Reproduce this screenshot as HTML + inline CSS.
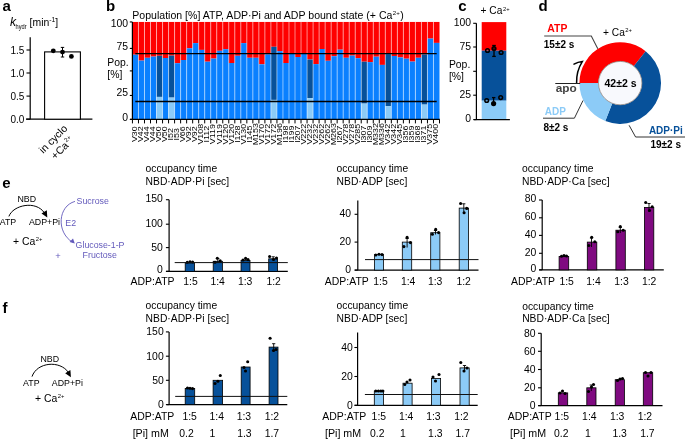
<!DOCTYPE html>
<html><head><meta charset="utf-8"><style>
html,body{margin:0;padding:0;background:#fff;}
svg{display:block;font-family:"Liberation Sans", sans-serif;will-change:transform;}
</style></head><body>
<svg width="685" height="440" viewBox="0 0 685 440">
<rect width="685" height="440" fill="#fff"/>
<text x="2.4" y="10.9" font-size="15" font-weight="bold" fill="#000">a</text>
<text x="9.9" y="26.1" font-size="12.2" font-style="italic" fill="#000">k</text>
<text x="15.6" y="29.4" font-size="7.0" fill="#000" textLength="11.0" lengthAdjust="spacingAndGlyphs">hydr</text>
<text x="29.6" y="26.3" font-size="10.4">[min<tspan dy="-4.6" font-size="6.8">-1</tspan><tspan dy="4.6">]</tspan></text>
<line x1="30.2" y1="37.2" x2="30.2" y2="119.2" stroke="#000" stroke-width="1.2"/>
<line x1="26" y1="119.2" x2="92.4" y2="119.2" stroke="#000" stroke-width="1.2"/>
<line x1="26.5" y1="50.0" x2="30.2" y2="50.0" stroke="#000" stroke-width="1.1"/>
<text x="24.3" y="53.6" font-size="10" fill="#000" text-anchor="end">1.5</text>
<line x1="26.5" y1="73.0" x2="30.2" y2="73.0" stroke="#000" stroke-width="1.1"/>
<text x="24.3" y="76.6" font-size="10" fill="#000" text-anchor="end">1.0</text>
<line x1="26.5" y1="96.1" x2="30.2" y2="96.1" stroke="#000" stroke-width="1.1"/>
<text x="24.3" y="99.69999999999999" font-size="10" fill="#000" text-anchor="end">0.5</text>
<line x1="26.5" y1="119.2" x2="30.2" y2="119.2" stroke="#000" stroke-width="1.1"/>
<text x="24.3" y="122.8" font-size="10" fill="#000" text-anchor="end">0.0</text>
<rect x="44.60" y="51.90" width="35.80" height="67.30" fill="#fff" stroke="#000" stroke-width="1.1"/>
<line x1="62.5" y1="47.4" x2="62.5" y2="57.0" stroke="#000" stroke-width="1"/>
<line x1="60.8" y1="47.4" x2="64.2" y2="47.4" stroke="#000" stroke-width="1"/>
<line x1="60.8" y1="57.0" x2="64.2" y2="57.0" stroke="#000" stroke-width="1"/>
<circle cx="53.30" cy="50.80" r="2.4" fill="#000"/>
<circle cx="62.50" cy="52.10" r="2.4" fill="#000"/>
<circle cx="71.40" cy="56.40" r="2.4" fill="#000"/>
<text transform="translate(68.1,129.2) rotate(-45)" font-size="10.5" text-anchor="end">in cyclo</text>
<text transform="translate(74.5,140.8) rotate(-45)" font-size="10.5" text-anchor="end">+Ca<tspan dx="0.7" dy="-4.3" font-size="6.0">2+</tspan></text>
<text x="106.0" y="10.8" font-size="15" font-weight="bold" fill="#000">b</text>
<text x="132.3" y="18.9" font-size="10" textLength="271.5" lengthAdjust="spacingAndGlyphs">Population [%] ATP, ADP·Pi and ADP bound state (+ Ca<tspan dx="0.4" dy="-3.6" font-size="5.8">2+</tspan><tspan dx="0.4" dy="3.6">)</tspan></text>
<rect x="132.45" y="21.95" width="6.02" height="32.75" fill="#ff0000"/>
<rect x="132.45" y="54.70" width="6.02" height="64.70" fill="#0a80ff"/>
<rect x="138.47" y="21.95" width="6.02" height="38.65" fill="#ff0000"/>
<rect x="138.47" y="60.60" width="6.02" height="58.80" fill="#0a80ff"/>
<rect x="144.49" y="21.95" width="6.02" height="35.85" fill="#ff0000"/>
<rect x="144.49" y="57.80" width="6.02" height="61.60" fill="#0a80ff"/>
<rect x="150.51" y="21.95" width="6.02" height="34.65" fill="#ff0000"/>
<rect x="150.51" y="56.60" width="6.02" height="62.80" fill="#0a80ff"/>
<rect x="156.53" y="21.95" width="6.02" height="33.85" fill="#ff0000"/>
<rect x="156.53" y="55.80" width="6.02" height="41.10" fill="#07519a"/>
<rect x="156.53" y="96.90" width="6.02" height="22.50" fill="#8ccbf7"/>
<rect x="162.55" y="21.95" width="6.02" height="36.05" fill="#ff0000"/>
<rect x="162.55" y="58.00" width="6.02" height="61.40" fill="#0a80ff"/>
<rect x="168.57" y="21.95" width="6.02" height="33.65" fill="#ff0000"/>
<rect x="168.57" y="55.60" width="6.02" height="42.00" fill="#07519a"/>
<rect x="168.57" y="97.60" width="6.02" height="21.80" fill="#8ccbf7"/>
<rect x="174.59" y="21.95" width="6.02" height="41.25" fill="#ff0000"/>
<rect x="174.59" y="63.20" width="6.02" height="56.20" fill="#0a80ff"/>
<rect x="180.61" y="21.95" width="6.02" height="38.05" fill="#ff0000"/>
<rect x="180.61" y="60.00" width="6.02" height="59.40" fill="#0a80ff"/>
<rect x="186.64" y="21.95" width="6.02" height="26.35" fill="#ff0000"/>
<rect x="186.64" y="48.30" width="6.02" height="71.10" fill="#0a80ff"/>
<rect x="192.66" y="21.95" width="6.02" height="21.15" fill="#ff0000"/>
<rect x="192.66" y="43.10" width="6.02" height="76.30" fill="#0a80ff"/>
<rect x="198.68" y="21.95" width="6.02" height="27.95" fill="#ff0000"/>
<rect x="198.68" y="49.90" width="6.02" height="69.50" fill="#0a80ff"/>
<rect x="204.70" y="21.95" width="6.02" height="39.75" fill="#ff0000"/>
<rect x="204.70" y="61.70" width="6.02" height="57.70" fill="#0a80ff"/>
<rect x="210.72" y="21.95" width="6.02" height="36.65" fill="#ff0000"/>
<rect x="210.72" y="58.60" width="6.02" height="60.80" fill="#0a80ff"/>
<rect x="216.74" y="21.95" width="6.02" height="28.85" fill="#ff0000"/>
<rect x="216.74" y="50.80" width="6.02" height="68.60" fill="#0a80ff"/>
<rect x="222.76" y="21.95" width="6.02" height="27.25" fill="#ff0000"/>
<rect x="222.76" y="49.20" width="6.02" height="70.20" fill="#0a80ff"/>
<rect x="228.78" y="21.95" width="6.02" height="41.05" fill="#ff0000"/>
<rect x="228.78" y="63.00" width="6.02" height="56.40" fill="#0a80ff"/>
<rect x="234.80" y="21.95" width="6.02" height="33.85" fill="#ff0000"/>
<rect x="234.80" y="55.80" width="6.02" height="63.60" fill="#0a80ff"/>
<rect x="240.82" y="21.95" width="6.02" height="21.15" fill="#ff0000"/>
<rect x="240.82" y="43.10" width="6.02" height="76.30" fill="#0a80ff"/>
<rect x="246.84" y="21.95" width="6.02" height="35.85" fill="#ff0000"/>
<rect x="246.84" y="57.80" width="6.02" height="61.60" fill="#0a80ff"/>
<rect x="252.86" y="21.95" width="6.02" height="35.85" fill="#ff0000"/>
<rect x="252.86" y="57.80" width="6.02" height="61.60" fill="#0a80ff"/>
<rect x="258.88" y="21.95" width="6.02" height="42.35" fill="#ff0000"/>
<rect x="258.88" y="64.30" width="6.02" height="55.10" fill="#0a80ff"/>
<rect x="264.90" y="21.95" width="6.02" height="32.45" fill="#ff0000"/>
<rect x="264.90" y="54.40" width="6.02" height="65.00" fill="#0a80ff"/>
<rect x="270.92" y="21.95" width="6.02" height="24.85" fill="#ff0000"/>
<rect x="270.92" y="46.80" width="6.02" height="53.10" fill="#07519a"/>
<rect x="270.92" y="99.90" width="6.02" height="19.50" fill="#8ccbf7"/>
<rect x="276.94" y="21.95" width="6.02" height="29.25" fill="#ff0000"/>
<rect x="276.94" y="51.20" width="6.02" height="68.20" fill="#0a80ff"/>
<rect x="282.96" y="21.95" width="6.02" height="41.05" fill="#ff0000"/>
<rect x="282.96" y="63.00" width="6.02" height="56.40" fill="#0a80ff"/>
<rect x="288.99" y="21.95" width="6.02" height="31.55" fill="#ff0000"/>
<rect x="288.99" y="53.50" width="6.02" height="65.90" fill="#0a80ff"/>
<rect x="295.01" y="21.95" width="6.02" height="35.05" fill="#ff0000"/>
<rect x="295.01" y="57.00" width="6.02" height="62.40" fill="#0a80ff"/>
<rect x="301.03" y="21.95" width="6.02" height="31.85" fill="#ff0000"/>
<rect x="301.03" y="53.80" width="6.02" height="65.60" fill="#0a80ff"/>
<rect x="307.05" y="21.95" width="6.02" height="37.55" fill="#ff0000"/>
<rect x="307.05" y="59.50" width="6.02" height="38.60" fill="#07519a"/>
<rect x="307.05" y="98.10" width="6.02" height="21.30" fill="#8ccbf7"/>
<rect x="313.07" y="21.95" width="6.02" height="42.15" fill="#ff0000"/>
<rect x="313.07" y="64.10" width="6.02" height="55.30" fill="#0a80ff"/>
<rect x="319.09" y="21.95" width="6.02" height="27.05" fill="#ff0000"/>
<rect x="319.09" y="49.00" width="6.02" height="70.40" fill="#0a80ff"/>
<rect x="325.11" y="21.95" width="6.02" height="38.85" fill="#ff0000"/>
<rect x="325.11" y="60.80" width="6.02" height="58.60" fill="#0a80ff"/>
<rect x="331.13" y="21.95" width="6.02" height="34.25" fill="#ff0000"/>
<rect x="331.13" y="56.20" width="6.02" height="63.20" fill="#0a80ff"/>
<rect x="337.15" y="21.95" width="6.02" height="27.75" fill="#ff0000"/>
<rect x="337.15" y="49.70" width="6.02" height="69.70" fill="#0a80ff"/>
<rect x="343.17" y="21.95" width="6.02" height="35.85" fill="#ff0000"/>
<rect x="343.17" y="57.80" width="6.02" height="61.60" fill="#0a80ff"/>
<rect x="349.19" y="21.95" width="6.02" height="33.65" fill="#ff0000"/>
<rect x="349.19" y="55.60" width="6.02" height="63.80" fill="#0a80ff"/>
<rect x="355.21" y="21.95" width="6.02" height="36.25" fill="#ff0000"/>
<rect x="355.21" y="58.20" width="6.02" height="61.20" fill="#0a80ff"/>
<rect x="361.23" y="21.95" width="6.02" height="39.75" fill="#ff0000"/>
<rect x="361.23" y="61.70" width="6.02" height="41.90" fill="#07519a"/>
<rect x="361.23" y="103.60" width="6.02" height="15.80" fill="#8ccbf7"/>
<rect x="367.25" y="21.95" width="6.02" height="40.15" fill="#ff0000"/>
<rect x="367.25" y="62.10" width="6.02" height="57.30" fill="#0a80ff"/>
<rect x="373.27" y="21.95" width="6.02" height="34.75" fill="#ff0000"/>
<rect x="373.27" y="56.70" width="6.02" height="62.70" fill="#0a80ff"/>
<rect x="379.29" y="21.95" width="6.02" height="42.95" fill="#ff0000"/>
<rect x="379.29" y="64.90" width="6.02" height="54.50" fill="#0a80ff"/>
<rect x="385.31" y="21.95" width="6.02" height="32.15" fill="#ff0000"/>
<rect x="385.31" y="54.10" width="6.02" height="52.00" fill="#07519a"/>
<rect x="385.31" y="106.10" width="6.02" height="13.30" fill="#8ccbf7"/>
<rect x="391.34" y="21.95" width="6.02" height="34.05" fill="#ff0000"/>
<rect x="391.34" y="56.00" width="6.02" height="63.40" fill="#0a80ff"/>
<rect x="397.36" y="21.95" width="6.02" height="35.45" fill="#ff0000"/>
<rect x="397.36" y="57.40" width="6.02" height="62.00" fill="#0a80ff"/>
<rect x="403.38" y="21.95" width="6.02" height="36.75" fill="#ff0000"/>
<rect x="403.38" y="58.70" width="6.02" height="60.70" fill="#0a80ff"/>
<rect x="409.40" y="21.95" width="6.02" height="39.65" fill="#ff0000"/>
<rect x="409.40" y="61.60" width="6.02" height="57.80" fill="#0a80ff"/>
<rect x="415.42" y="21.95" width="6.02" height="35.85" fill="#ff0000"/>
<rect x="415.42" y="57.80" width="6.02" height="61.60" fill="#0a80ff"/>
<rect x="421.44" y="21.95" width="6.02" height="32.55" fill="#ff0000"/>
<rect x="421.44" y="54.50" width="6.02" height="50.10" fill="#07519a"/>
<rect x="421.44" y="104.60" width="6.02" height="14.80" fill="#8ccbf7"/>
<rect x="427.46" y="21.95" width="6.02" height="16.65" fill="#ff0000"/>
<rect x="427.46" y="38.60" width="6.02" height="80.80" fill="#0a80ff"/>
<rect x="433.48" y="21.95" width="6.02" height="20.95" fill="#ff0000"/>
<rect x="433.48" y="42.90" width="6.02" height="76.50" fill="#0a80ff"/>
<line x1="138.47" y1="21.95" x2="138.47" y2="119.4" stroke="#fff" stroke-width="1" stroke-opacity="0.5"/>
<line x1="144.49" y1="21.95" x2="144.49" y2="119.4" stroke="#fff" stroke-width="1" stroke-opacity="0.5"/>
<line x1="150.51" y1="21.95" x2="150.51" y2="119.4" stroke="#fff" stroke-width="1" stroke-opacity="0.5"/>
<line x1="156.53" y1="21.95" x2="156.53" y2="119.4" stroke="#fff" stroke-width="1" stroke-opacity="0.5"/>
<line x1="162.55" y1="21.95" x2="162.55" y2="119.4" stroke="#fff" stroke-width="1" stroke-opacity="0.5"/>
<line x1="168.57" y1="21.95" x2="168.57" y2="119.4" stroke="#fff" stroke-width="1" stroke-opacity="0.5"/>
<line x1="174.59" y1="21.95" x2="174.59" y2="119.4" stroke="#fff" stroke-width="1" stroke-opacity="0.5"/>
<line x1="180.61" y1="21.95" x2="180.61" y2="119.4" stroke="#fff" stroke-width="1" stroke-opacity="0.5"/>
<line x1="186.64" y1="21.95" x2="186.64" y2="119.4" stroke="#fff" stroke-width="1" stroke-opacity="0.5"/>
<line x1="192.66" y1="21.95" x2="192.66" y2="119.4" stroke="#fff" stroke-width="1" stroke-opacity="0.5"/>
<line x1="198.68" y1="21.95" x2="198.68" y2="119.4" stroke="#fff" stroke-width="1" stroke-opacity="0.5"/>
<line x1="204.70" y1="21.95" x2="204.70" y2="119.4" stroke="#fff" stroke-width="1" stroke-opacity="0.5"/>
<line x1="210.72" y1="21.95" x2="210.72" y2="119.4" stroke="#fff" stroke-width="1" stroke-opacity="0.5"/>
<line x1="216.74" y1="21.95" x2="216.74" y2="119.4" stroke="#fff" stroke-width="1" stroke-opacity="0.5"/>
<line x1="222.76" y1="21.95" x2="222.76" y2="119.4" stroke="#fff" stroke-width="1" stroke-opacity="0.5"/>
<line x1="228.78" y1="21.95" x2="228.78" y2="119.4" stroke="#fff" stroke-width="1" stroke-opacity="0.5"/>
<line x1="234.80" y1="21.95" x2="234.80" y2="119.4" stroke="#fff" stroke-width="1" stroke-opacity="0.5"/>
<line x1="240.82" y1="21.95" x2="240.82" y2="119.4" stroke="#fff" stroke-width="1" stroke-opacity="0.5"/>
<line x1="246.84" y1="21.95" x2="246.84" y2="119.4" stroke="#fff" stroke-width="1" stroke-opacity="0.5"/>
<line x1="252.86" y1="21.95" x2="252.86" y2="119.4" stroke="#fff" stroke-width="1" stroke-opacity="0.5"/>
<line x1="258.88" y1="21.95" x2="258.88" y2="119.4" stroke="#fff" stroke-width="1" stroke-opacity="0.5"/>
<line x1="264.90" y1="21.95" x2="264.90" y2="119.4" stroke="#fff" stroke-width="1" stroke-opacity="0.5"/>
<line x1="270.92" y1="21.95" x2="270.92" y2="119.4" stroke="#fff" stroke-width="1" stroke-opacity="0.5"/>
<line x1="276.94" y1="21.95" x2="276.94" y2="119.4" stroke="#fff" stroke-width="1" stroke-opacity="0.5"/>
<line x1="282.96" y1="21.95" x2="282.96" y2="119.4" stroke="#fff" stroke-width="1" stroke-opacity="0.5"/>
<line x1="288.99" y1="21.95" x2="288.99" y2="119.4" stroke="#fff" stroke-width="1" stroke-opacity="0.5"/>
<line x1="295.01" y1="21.95" x2="295.01" y2="119.4" stroke="#fff" stroke-width="1" stroke-opacity="0.5"/>
<line x1="301.03" y1="21.95" x2="301.03" y2="119.4" stroke="#fff" stroke-width="1" stroke-opacity="0.5"/>
<line x1="307.05" y1="21.95" x2="307.05" y2="119.4" stroke="#fff" stroke-width="1" stroke-opacity="0.5"/>
<line x1="313.07" y1="21.95" x2="313.07" y2="119.4" stroke="#fff" stroke-width="1" stroke-opacity="0.5"/>
<line x1="319.09" y1="21.95" x2="319.09" y2="119.4" stroke="#fff" stroke-width="1" stroke-opacity="0.5"/>
<line x1="325.11" y1="21.95" x2="325.11" y2="119.4" stroke="#fff" stroke-width="1" stroke-opacity="0.5"/>
<line x1="331.13" y1="21.95" x2="331.13" y2="119.4" stroke="#fff" stroke-width="1" stroke-opacity="0.5"/>
<line x1="337.15" y1="21.95" x2="337.15" y2="119.4" stroke="#fff" stroke-width="1" stroke-opacity="0.5"/>
<line x1="343.17" y1="21.95" x2="343.17" y2="119.4" stroke="#fff" stroke-width="1" stroke-opacity="0.5"/>
<line x1="349.19" y1="21.95" x2="349.19" y2="119.4" stroke="#fff" stroke-width="1" stroke-opacity="0.5"/>
<line x1="355.21" y1="21.95" x2="355.21" y2="119.4" stroke="#fff" stroke-width="1" stroke-opacity="0.5"/>
<line x1="361.23" y1="21.95" x2="361.23" y2="119.4" stroke="#fff" stroke-width="1" stroke-opacity="0.5"/>
<line x1="367.25" y1="21.95" x2="367.25" y2="119.4" stroke="#fff" stroke-width="1" stroke-opacity="0.5"/>
<line x1="373.27" y1="21.95" x2="373.27" y2="119.4" stroke="#fff" stroke-width="1" stroke-opacity="0.5"/>
<line x1="379.29" y1="21.95" x2="379.29" y2="119.4" stroke="#fff" stroke-width="1" stroke-opacity="0.5"/>
<line x1="385.31" y1="21.95" x2="385.31" y2="119.4" stroke="#fff" stroke-width="1" stroke-opacity="0.5"/>
<line x1="391.34" y1="21.95" x2="391.34" y2="119.4" stroke="#fff" stroke-width="1" stroke-opacity="0.5"/>
<line x1="397.36" y1="21.95" x2="397.36" y2="119.4" stroke="#fff" stroke-width="1" stroke-opacity="0.5"/>
<line x1="403.38" y1="21.95" x2="403.38" y2="119.4" stroke="#fff" stroke-width="1" stroke-opacity="0.5"/>
<line x1="409.40" y1="21.95" x2="409.40" y2="119.4" stroke="#fff" stroke-width="1" stroke-opacity="0.5"/>
<line x1="415.42" y1="21.95" x2="415.42" y2="119.4" stroke="#fff" stroke-width="1" stroke-opacity="0.5"/>
<line x1="421.44" y1="21.95" x2="421.44" y2="119.4" stroke="#fff" stroke-width="1" stroke-opacity="0.5"/>
<line x1="427.46" y1="21.95" x2="427.46" y2="119.4" stroke="#fff" stroke-width="1" stroke-opacity="0.5"/>
<line x1="433.48" y1="21.95" x2="433.48" y2="119.4" stroke="#fff" stroke-width="1" stroke-opacity="0.5"/>
<line x1="135.3" y1="53.6" x2="436.7" y2="53.6" stroke="#000" stroke-width="1.4"/>
<line x1="135.3" y1="101.5" x2="436.7" y2="101.5" stroke="#000" stroke-width="1.4"/>
<line x1="132.4" y1="21.95" x2="132.4" y2="120.0" stroke="#000" stroke-width="1.2"/>
<line x1="130.0" y1="119.4" x2="439.8" y2="119.4" stroke="#000" stroke-width="1.2"/>
<line x1="132.45" y1="119.4" x2="132.45" y2="123.4" stroke="#000" stroke-width="1"/>
<line x1="138.47" y1="119.4" x2="138.47" y2="123.4" stroke="#000" stroke-width="1"/>
<line x1="144.49" y1="119.4" x2="144.49" y2="123.4" stroke="#000" stroke-width="1"/>
<line x1="150.51" y1="119.4" x2="150.51" y2="123.4" stroke="#000" stroke-width="1"/>
<line x1="156.53" y1="119.4" x2="156.53" y2="123.4" stroke="#000" stroke-width="1"/>
<line x1="162.55" y1="119.4" x2="162.55" y2="123.4" stroke="#000" stroke-width="1"/>
<line x1="168.57" y1="119.4" x2="168.57" y2="123.4" stroke="#000" stroke-width="1"/>
<line x1="174.59" y1="119.4" x2="174.59" y2="123.4" stroke="#000" stroke-width="1"/>
<line x1="180.61" y1="119.4" x2="180.61" y2="123.4" stroke="#000" stroke-width="1"/>
<line x1="186.64" y1="119.4" x2="186.64" y2="123.4" stroke="#000" stroke-width="1"/>
<line x1="192.66" y1="119.4" x2="192.66" y2="123.4" stroke="#000" stroke-width="1"/>
<line x1="198.68" y1="119.4" x2="198.68" y2="123.4" stroke="#000" stroke-width="1"/>
<line x1="204.70" y1="119.4" x2="204.70" y2="123.4" stroke="#000" stroke-width="1"/>
<line x1="210.72" y1="119.4" x2="210.72" y2="123.4" stroke="#000" stroke-width="1"/>
<line x1="216.74" y1="119.4" x2="216.74" y2="123.4" stroke="#000" stroke-width="1"/>
<line x1="222.76" y1="119.4" x2="222.76" y2="123.4" stroke="#000" stroke-width="1"/>
<line x1="228.78" y1="119.4" x2="228.78" y2="123.4" stroke="#000" stroke-width="1"/>
<line x1="234.80" y1="119.4" x2="234.80" y2="123.4" stroke="#000" stroke-width="1"/>
<line x1="240.82" y1="119.4" x2="240.82" y2="123.4" stroke="#000" stroke-width="1"/>
<line x1="246.84" y1="119.4" x2="246.84" y2="123.4" stroke="#000" stroke-width="1"/>
<line x1="252.86" y1="119.4" x2="252.86" y2="123.4" stroke="#000" stroke-width="1"/>
<line x1="258.88" y1="119.4" x2="258.88" y2="123.4" stroke="#000" stroke-width="1"/>
<line x1="264.90" y1="119.4" x2="264.90" y2="123.4" stroke="#000" stroke-width="1"/>
<line x1="270.92" y1="119.4" x2="270.92" y2="123.4" stroke="#000" stroke-width="1"/>
<line x1="276.94" y1="119.4" x2="276.94" y2="123.4" stroke="#000" stroke-width="1"/>
<line x1="282.96" y1="119.4" x2="282.96" y2="123.4" stroke="#000" stroke-width="1"/>
<line x1="288.99" y1="119.4" x2="288.99" y2="123.4" stroke="#000" stroke-width="1"/>
<line x1="295.01" y1="119.4" x2="295.01" y2="123.4" stroke="#000" stroke-width="1"/>
<line x1="301.03" y1="119.4" x2="301.03" y2="123.4" stroke="#000" stroke-width="1"/>
<line x1="307.05" y1="119.4" x2="307.05" y2="123.4" stroke="#000" stroke-width="1"/>
<line x1="313.07" y1="119.4" x2="313.07" y2="123.4" stroke="#000" stroke-width="1"/>
<line x1="319.09" y1="119.4" x2="319.09" y2="123.4" stroke="#000" stroke-width="1"/>
<line x1="325.11" y1="119.4" x2="325.11" y2="123.4" stroke="#000" stroke-width="1"/>
<line x1="331.13" y1="119.4" x2="331.13" y2="123.4" stroke="#000" stroke-width="1"/>
<line x1="337.15" y1="119.4" x2="337.15" y2="123.4" stroke="#000" stroke-width="1"/>
<line x1="343.17" y1="119.4" x2="343.17" y2="123.4" stroke="#000" stroke-width="1"/>
<line x1="349.19" y1="119.4" x2="349.19" y2="123.4" stroke="#000" stroke-width="1"/>
<line x1="355.21" y1="119.4" x2="355.21" y2="123.4" stroke="#000" stroke-width="1"/>
<line x1="361.23" y1="119.4" x2="361.23" y2="123.4" stroke="#000" stroke-width="1"/>
<line x1="367.25" y1="119.4" x2="367.25" y2="123.4" stroke="#000" stroke-width="1"/>
<line x1="373.27" y1="119.4" x2="373.27" y2="123.4" stroke="#000" stroke-width="1"/>
<line x1="379.29" y1="119.4" x2="379.29" y2="123.4" stroke="#000" stroke-width="1"/>
<line x1="385.31" y1="119.4" x2="385.31" y2="123.4" stroke="#000" stroke-width="1"/>
<line x1="391.34" y1="119.4" x2="391.34" y2="123.4" stroke="#000" stroke-width="1"/>
<line x1="397.36" y1="119.4" x2="397.36" y2="123.4" stroke="#000" stroke-width="1"/>
<line x1="403.38" y1="119.4" x2="403.38" y2="123.4" stroke="#000" stroke-width="1"/>
<line x1="409.40" y1="119.4" x2="409.40" y2="123.4" stroke="#000" stroke-width="1"/>
<line x1="415.42" y1="119.4" x2="415.42" y2="123.4" stroke="#000" stroke-width="1"/>
<line x1="421.44" y1="119.4" x2="421.44" y2="123.4" stroke="#000" stroke-width="1"/>
<line x1="427.46" y1="119.4" x2="427.46" y2="123.4" stroke="#000" stroke-width="1"/>
<line x1="433.48" y1="119.4" x2="433.48" y2="123.4" stroke="#000" stroke-width="1"/>
<line x1="439.50" y1="119.4" x2="439.50" y2="123.4" stroke="#000" stroke-width="1"/>
<line x1="129.8" y1="21.95" x2="132.4" y2="21.95" stroke="#000" stroke-width="1.1"/>
<line x1="129.8" y1="48.4" x2="132.4" y2="48.4" stroke="#000" stroke-width="1.1"/>
<line x1="129.8" y1="70.9" x2="132.4" y2="70.9" stroke="#000" stroke-width="1.1"/>
<line x1="129.8" y1="95.45" x2="132.4" y2="95.45" stroke="#000" stroke-width="1.1"/>
<line x1="129.8" y1="119.4" x2="132.4" y2="119.4" stroke="#000" stroke-width="1.1"/>
<text x="128.1" y="26.9" font-size="10.4" fill="#000" text-anchor="end">100</text>
<text x="128.1" y="50.3" font-size="10.4" fill="#000" text-anchor="end">75</text>
<text x="128.1" y="96.4" font-size="10.4" fill="#000" text-anchor="end">25</text>
<text x="128.1" y="120.6" font-size="10.4" fill="#000" text-anchor="end">0</text>
<text x="107.3" y="65.6" font-size="10.4" fill="#000">Pop.</text>
<text x="107.3" y="77.8" font-size="10.4" fill="#000">[%]</text>
<text transform="translate(137.21,134.2) rotate(-90) scale(1,0.8)" font-size="8.9" text-anchor="middle">V30</text>
<text transform="translate(143.23,134.2) rotate(-90) scale(1,0.8)" font-size="8.9" text-anchor="middle">V42</text>
<text transform="translate(149.25,134.2) rotate(-90) scale(1,0.8)" font-size="8.9" text-anchor="middle">V44</text>
<text transform="translate(155.27,134.2) rotate(-90) scale(1,0.8)" font-size="8.9" text-anchor="middle">V44</text>
<text transform="translate(161.29,134.2) rotate(-90) scale(1,0.8)" font-size="8.9" text-anchor="middle">V50</text>
<text transform="translate(167.31,134.2) rotate(-90) scale(1,0.8)" font-size="8.9" text-anchor="middle">V50</text>
<text transform="translate(173.33,134.2) rotate(-90) scale(1,0.8)" font-size="8.9" text-anchor="middle">I52</text>
<text transform="translate(179.35,134.2) rotate(-90) scale(1,0.8)" font-size="8.9" text-anchor="middle">I53</text>
<text transform="translate(185.38,134.2) rotate(-90) scale(1,0.8)" font-size="8.9" text-anchor="middle">V66</text>
<text transform="translate(191.40,134.2) rotate(-90) scale(1,0.8)" font-size="8.9" text-anchor="middle">V92</text>
<text transform="translate(197.42,134.2) rotate(-90) scale(1,0.8)" font-size="8.9" text-anchor="middle">V92</text>
<text transform="translate(203.44,134.2) rotate(-90) scale(1,0.8)" font-size="8.9" text-anchor="middle">V108</text>
<text transform="translate(209.46,134.2) rotate(-90) scale(1,0.8)" font-size="8.9" text-anchor="middle">I112</text>
<text transform="translate(215.48,134.2) rotate(-90) scale(1,0.8)" font-size="8.9" text-anchor="middle">V119</text>
<text transform="translate(221.50,134.2) rotate(-90) scale(1,0.8)" font-size="8.9" text-anchor="middle">V119</text>
<text transform="translate(227.52,134.2) rotate(-90) scale(1,0.8)" font-size="8.9" text-anchor="middle">V120</text>
<text transform="translate(233.54,134.2) rotate(-90) scale(1,0.8)" font-size="8.9" text-anchor="middle">V120</text>
<text transform="translate(239.56,134.2) rotate(-90) scale(1,0.8)" font-size="8.9" text-anchor="middle">I128</text>
<text transform="translate(245.58,134.2) rotate(-90) scale(1,0.8)" font-size="8.9" text-anchor="middle">V130</text>
<text transform="translate(251.60,134.2) rotate(-90) scale(1,0.8)" font-size="8.9" text-anchor="middle">I145</text>
<text transform="translate(257.62,134.2) rotate(-90) scale(1,0.8)" font-size="8.9" text-anchor="middle">M153</text>
<text transform="translate(263.64,134.2) rotate(-90) scale(1,0.8)" font-size="8.9" text-anchor="middle">V170</text>
<text transform="translate(269.66,134.2) rotate(-90) scale(1,0.8)" font-size="8.9" text-anchor="middle">V172</text>
<text transform="translate(275.68,134.2) rotate(-90) scale(1,0.8)" font-size="8.9" text-anchor="middle">V172</text>
<text transform="translate(281.70,134.2) rotate(-90) scale(1,0.8)" font-size="8.9" text-anchor="middle">M196</text>
<text transform="translate(287.73,134.2) rotate(-90) scale(1,0.8)" font-size="8.9" text-anchor="middle">I198</text>
<text transform="translate(293.75,134.2) rotate(-90) scale(1,0.8)" font-size="8.9" text-anchor="middle">I199</text>
<text transform="translate(299.77,134.2) rotate(-90) scale(1,0.8)" font-size="8.9" text-anchor="middle">I207</text>
<text transform="translate(305.79,134.2) rotate(-90) scale(1,0.8)" font-size="8.9" text-anchor="middle">V222</text>
<text transform="translate(311.81,134.2) rotate(-90) scale(1,0.8)" font-size="8.9" text-anchor="middle">V232</text>
<text transform="translate(317.83,134.2) rotate(-90) scale(1,0.8)" font-size="8.9" text-anchor="middle">V232</text>
<text transform="translate(323.85,134.2) rotate(-90) scale(1,0.8)" font-size="8.9" text-anchor="middle">V262</text>
<text transform="translate(329.87,134.2) rotate(-90) scale(1,0.8)" font-size="8.9" text-anchor="middle">V262</text>
<text transform="translate(335.89,134.2) rotate(-90) scale(1,0.8)" font-size="8.9" text-anchor="middle">M263</text>
<text transform="translate(341.91,134.2) rotate(-90) scale(1,0.8)" font-size="8.9" text-anchor="middle">I267</text>
<text transform="translate(347.93,134.2) rotate(-90) scale(1,0.8)" font-size="8.9" text-anchor="middle">V278</text>
<text transform="translate(353.95,134.2) rotate(-90) scale(1,0.8)" font-size="8.9" text-anchor="middle">V278</text>
<text transform="translate(359.97,134.2) rotate(-90) scale(1,0.8)" font-size="8.9" text-anchor="middle">V285</text>
<text transform="translate(365.99,134.2) rotate(-90) scale(1,0.8)" font-size="8.9" text-anchor="middle">I307</text>
<text transform="translate(372.01,134.2) rotate(-90) scale(1,0.8)" font-size="8.9" text-anchor="middle">I309</text>
<text transform="translate(378.03,134.2) rotate(-90) scale(1,0.8)" font-size="8.9" text-anchor="middle">M332</text>
<text transform="translate(384.05,134.2) rotate(-90) scale(1,0.8)" font-size="8.9" text-anchor="middle">M336</text>
<text transform="translate(390.07,134.2) rotate(-90) scale(1,0.8)" font-size="8.9" text-anchor="middle">V342</text>
<text transform="translate(396.10,134.2) rotate(-90) scale(1,0.8)" font-size="8.9" text-anchor="middle">V342</text>
<text transform="translate(402.12,134.2) rotate(-90) scale(1,0.8)" font-size="8.9" text-anchor="middle">V345</text>
<text transform="translate(408.14,134.2) rotate(-90) scale(1,0.8)" font-size="8.9" text-anchor="middle">I356</text>
<text transform="translate(414.16,134.2) rotate(-90) scale(1,0.8)" font-size="8.9" text-anchor="middle">I359</text>
<text transform="translate(420.18,134.2) rotate(-90) scale(1,0.8)" font-size="8.9" text-anchor="middle">I368</text>
<text transform="translate(426.20,134.2) rotate(-90) scale(1,0.8)" font-size="8.9" text-anchor="middle">I371</text>
<text transform="translate(432.22,134.2) rotate(-90) scale(1,0.8)" font-size="8.9" text-anchor="middle">V375</text>
<text transform="translate(438.24,134.2) rotate(-90) scale(1,0.8)" font-size="8.9" text-anchor="middle">V400</text>
<text x="458.3" y="11.0" font-size="15" font-weight="bold" fill="#000">c</text>
<text x="480.6" y="14.4" font-size="10.2">+ Ca<tspan dx="0.5" dy="-3.9" font-size="5.8">2+</tspan></text>
<rect x="481.70" y="22.10" width="24.60" height="28.60" fill="#ff0000"/>
<rect x="481.70" y="50.70" width="24.60" height="50.00" fill="#07519a"/>
<rect x="481.70" y="100.70" width="24.60" height="18.90" fill="#8ccbf7"/>
<line x1="476.4" y1="23.2" x2="476.4" y2="119.6" stroke="#000" stroke-width="1.2"/>
<line x1="474.0" y1="119.6" x2="509.9" y2="119.6" stroke="#000" stroke-width="1.2"/>
<line x1="473.2" y1="23.3" x2="476.4" y2="23.3" stroke="#000" stroke-width="1.1"/>
<line x1="473.2" y1="47.0" x2="476.4" y2="47.0" stroke="#000" stroke-width="1.1"/>
<line x1="473.2" y1="71.3" x2="476.4" y2="71.3" stroke="#000" stroke-width="1.1"/>
<line x1="473.2" y1="95.2" x2="476.4" y2="95.2" stroke="#000" stroke-width="1.1"/>
<line x1="473.2" y1="119.6" x2="476.4" y2="119.6" stroke="#000" stroke-width="1.1"/>
<text x="471.0" y="25.9" font-size="10.4" fill="#000" text-anchor="end">100</text>
<text x="471.0" y="50.0" font-size="10.4" fill="#000" text-anchor="end">75</text>
<text x="471.0" y="98.2" font-size="10.4" fill="#000" text-anchor="end">25</text>
<text x="471.0" y="122.1" font-size="10.4" fill="#000" text-anchor="end">0</text>
<text x="448.9" y="67.5" font-size="10.4" fill="#000">Pop.</text>
<text x="448.9" y="79.9" font-size="10.4" fill="#000">[%]</text>
<line x1="494.0" y1="45.5" x2="494.0" y2="56.4" stroke="#000" stroke-width="1.3"/>
<line x1="492.2" y1="45.5" x2="495.8" y2="45.5" stroke="#000" stroke-width="1.3"/>
<line x1="492.2" y1="56.4" x2="495.8" y2="56.4" stroke="#000" stroke-width="1.3"/>
<circle cx="487.50" cy="50.50" r="1.85" fill="none" stroke="#000" stroke-width="1.5"/>
<circle cx="494.00" cy="48.50" r="1.85" fill="none" stroke="#000" stroke-width="1.5"/>
<circle cx="501.10" cy="52.50" r="1.85" fill="none" stroke="#000" stroke-width="1.5"/>
<line x1="493.6" y1="97.6" x2="493.6" y2="103.6" stroke="#000" stroke-width="1.3"/>
<line x1="492.0" y1="97.6" x2="495.4" y2="97.6" stroke="#000" stroke-width="1.3"/>
<circle cx="486.70" cy="100.50" r="1.85" fill="none" stroke="#000" stroke-width="1.5"/>
<circle cx="500.70" cy="97.60" r="1.85" fill="none" stroke="#000" stroke-width="1.5"/>
<circle cx="493.60" cy="103.60" r="2.6" fill="#000"/>
<text x="538.5" y="10.9" font-size="15" font-weight="bold" fill="#000">d</text>
<path d="M579.40,83.10 A40.8,40.8 0 0 1 645.65,51.21 L633.74,66.14 A21.7,21.7 0 0 0 598.50,83.10 Z" fill="#ff0000"/>
<path d="M645.65,51.21 A40.8,40.8 0 0 1 605.31,121.09 L612.28,103.30 A21.7,21.7 0 0 0 633.74,66.14 Z" fill="#07519a"/>
<path d="M605.31,121.09 A40.8,40.8 0 0 1 579.40,83.10 L598.50,83.10 A21.7,21.7 0 0 0 612.28,103.30 Z" fill="#8ccbf7"/>
<circle cx="620.20" cy="83.10" r="21.7" fill="#f8f9fd" stroke="#8f8580" stroke-width="0.8"/>
<text x="620.5" y="87.1" font-size="10.5" font-weight="bold" fill="#000" text-anchor="middle">42±2 s</text>
<text x="547.3" y="32.2" font-size="10.4" font-weight="bold" fill="#ff0000">ATP</text>
<polyline points="544.2,36 591.3,36 597.8,48.8" fill="none" stroke="#444" stroke-width="1.1"/>
<text x="543.8" y="47.7" font-size="10" font-weight="bold" fill="#000">15±2 s</text>
<text x="603" y="35.9" font-size="10.2">+ Ca<tspan dx="0.5" dy="-3.9" font-size="5.8">2+</tspan></text>
<path d="M574.0,64.2 C576.5,62.6 579.5,61.6 582.4,61.4 C579.2,66.5 576.3,74 576.6,83" fill="none" stroke="#000" stroke-width="1.5" stroke-linecap="round"/>
<line x1="555.3" y1="83.5" x2="580.2" y2="83.5" stroke="#222" stroke-width="1"/>
<text x="555.8" y="92.3" font-size="11.8" font-weight="bold" fill="#444">apo</text>
<text x="544.8" y="114.5" font-size="10" font-weight="bold" fill="#8ccbf7">ADP</text>
<polyline points="543,118.2 574.4,118.2 583,100.5" fill="none" stroke="#333" stroke-width="1"/>
<text x="543.4" y="131.2" font-size="10" font-weight="bold" fill="#000">8±2 s</text>
<text x="648.9" y="133.5" font-size="10" font-weight="bold" fill="#07519a">ADP·Pi</text>
<polyline points="629.1,125.3 635.6,137 686,137" fill="none" stroke="#333" stroke-width="1"/>
<text x="650.5" y="148" font-size="10" font-weight="bold" fill="#000">19±2 s</text>
<text x="2.3" y="187.7" font-size="15" font-weight="bold" fill="#000">e</text>
<text x="17.5" y="201.7" font-size="8.8" fill="#000">NBD</text>
<text x="-0.3" y="225.3" font-size="8.8" fill="#000">ATP</text>
<text x="29.0" y="225.3" font-size="8.8" fill="#000">ADP+Pi</text>
<path d="M8.9,216.4 C13,205 36,200 44.5,213" fill="none" stroke="#000" stroke-width="1"/>
<path d="M47.3,217.5 L41.5,213.6 L46.8,210.3 Z" fill="#000"/>
<text x="13" y="244.6" font-size="10.4">+ Ca<tspan dx="0.5" dy="-3.9" font-size="5.8">2+</tspan></text>
<text x="76.6" y="204.2" font-size="8.8" fill="#6259bb">Sucrose</text>
<text x="65.3" y="226" font-size="8.8" fill="#6259bb">E2</text>
<text x="75.6" y="247.9" font-size="8.8" fill="#6259bb">Glucose-1-P</text>
<text x="82.6" y="257.9" font-size="8.8" fill="#6259bb">Fructose</text>
<text x="55.2" y="259.0" font-size="9.4" fill="#6259bb">+</text>
<path d="M75,201.4 C58,206 56,232 72.5,242.2" fill="none" stroke="#6259bb" stroke-width="0.9"/>
<path d="M74.8,243.5 L69.6,242.0 L73.0,238.6 Z" fill="#6259bb"/>
<text x="2.6" y="312.5" font-size="15" font-weight="bold" fill="#000">f</text>
<text x="40.5" y="361.6" font-size="8.8" fill="#000">NBD</text>
<text x="23.1" y="385.7" font-size="8.8" fill="#000">ATP</text>
<text x="51.8" y="385.7" font-size="8.8" fill="#000">ADP+Pi</text>
<path d="M32,376.6 C37,362 60,360 68.5,372.5" fill="none" stroke="#000" stroke-width="1"/>
<path d="M70.9,377.3 L65.2,373.3 L70.4,370 Z" fill="#000"/>
<text x="35" y="402.1" font-size="10.4">+ Ca<tspan dx="0.5" dy="-3.9" font-size="5.8">2+</tspan></text>
<text x="145.6" y="171.8" font-size="10.3" fill="#000">occupancy time</text>
<text x="145.6" y="184.9" font-size="10.3" fill="#000">NBD·ADP·Pi [sec]</text>
<line x1="169.1" y1="199.7" x2="169.1" y2="271.4" stroke="#000" stroke-width="1.2"/>
<line x1="166.1" y1="271.4" x2="287.8" y2="271.4" stroke="#000" stroke-width="1.2"/>
<line x1="165.9" y1="199.7" x2="169.1" y2="199.7" stroke="#000" stroke-width="1.1"/>
<text x="162.9" y="202.4" font-size="10.4" fill="#000" text-anchor="end">150</text>
<line x1="165.9" y1="224.2" x2="169.1" y2="224.2" stroke="#000" stroke-width="1.1"/>
<text x="162.9" y="226.5" font-size="10.4" fill="#000" text-anchor="end">100</text>
<line x1="165.9" y1="247.6" x2="169.1" y2="247.6" stroke="#000" stroke-width="1.1"/>
<text x="162.9" y="250.7" font-size="10.4" fill="#000" text-anchor="end">50</text>
<line x1="165.9" y1="271.4" x2="169.1" y2="271.4" stroke="#000" stroke-width="1.1"/>
<text x="162.9" y="272.6" font-size="10.4" fill="#000" text-anchor="end">0</text>
<rect x="185.20" y="262.90" width="9.40" height="8.50" fill="#07519a" stroke="#000" stroke-width="0.8"/>
<rect x="213.20" y="261.30" width="9.20" height="10.10" fill="#07519a" stroke="#000" stroke-width="0.8"/>
<rect x="241.05" y="260.40" width="8.95" height="11.00" fill="#07519a" stroke="#000" stroke-width="0.8"/>
<rect x="268.70" y="258.80" width="8.90" height="12.60" fill="#07519a" stroke="#000" stroke-width="0.8"/>
<line x1="217.8" y1="258.5" x2="217.8" y2="263" stroke="#000" stroke-width="0.9"/>
<line x1="216.20000000000002" y1="258.5" x2="219.4" y2="258.5" stroke="#000" stroke-width="0.9"/>
<line x1="273.2" y1="256.8" x2="273.2" y2="260" stroke="#000" stroke-width="0.9"/>
<line x1="271.59999999999997" y1="256.8" x2="274.8" y2="256.8" stroke="#000" stroke-width="0.9"/>
<circle cx="187.30" cy="262.30" r="1.55" fill="#000"/>
<circle cx="190.00" cy="261.80" r="1.55" fill="#000"/>
<circle cx="192.60" cy="262.00" r="1.55" fill="#000"/>
<circle cx="215.00" cy="262.30" r="1.55" fill="#000"/>
<circle cx="217.30" cy="258.30" r="1.55" fill="#000"/>
<circle cx="220.20" cy="260.80" r="1.55" fill="#000"/>
<circle cx="243.00" cy="260.00" r="1.55" fill="#000"/>
<circle cx="245.60" cy="258.40" r="1.55" fill="#000"/>
<circle cx="248.00" cy="259.60" r="1.55" fill="#000"/>
<circle cx="269.60" cy="256.50" r="1.55" fill="#000"/>
<circle cx="273.50" cy="259.50" r="1.55" fill="#000"/>
<circle cx="276.50" cy="258.00" r="1.55" fill="#000"/>
<line x1="174.7" y1="262.6" x2="287.8" y2="262.6" stroke="#111" stroke-width="1.0"/>
<text x="130.58" y="284.8" font-size="10.4" fill="#000" textLength="44.0" lengthAdjust="spacingAndGlyphs">ADP:ATP</text>
<text x="183.31" y="284.8" font-size="10.4" fill="#000">1:5</text>
<text x="210.41" y="284.8" font-size="10.4" fill="#000">1:4</text>
<text x="237.91" y="284.8" font-size="10.4" fill="#000">1:3</text>
<text x="266.41" y="284.8" font-size="10.4" fill="#000">1:2</text>
<text x="336.6" y="171.8" font-size="10.3" fill="#000">occupancy time</text>
<text x="336.6" y="184.9" font-size="10.3" fill="#000">NBD·ADP [sec]</text>
<line x1="357.8" y1="200.5" x2="357.8" y2="270.1" stroke="#000" stroke-width="1.2"/>
<line x1="354.7" y1="270.1" x2="478.5" y2="270.1" stroke="#000" stroke-width="1.2"/>
<line x1="354.6" y1="214.3" x2="357.8" y2="214.3" stroke="#000" stroke-width="1.1"/>
<text x="351.0" y="216.6" font-size="10.4" fill="#000" text-anchor="end">40</text>
<line x1="354.6" y1="242.1" x2="357.8" y2="242.1" stroke="#000" stroke-width="1.1"/>
<text x="351.0" y="245.0" font-size="10.4" fill="#000" text-anchor="end">20</text>
<line x1="354.6" y1="270.1" x2="357.8" y2="270.1" stroke="#000" stroke-width="1.1"/>
<text x="351.0" y="272.9" font-size="10.4" fill="#000" text-anchor="end">0</text>
<rect x="374.40" y="254.60" width="9.20" height="15.50" fill="#8ccbf7" stroke="#000" stroke-width="0.8"/>
<rect x="402.30" y="242.10" width="9.40" height="28.00" fill="#8ccbf7" stroke="#000" stroke-width="0.8"/>
<rect x="430.70" y="232.70" width="9.20" height="37.40" fill="#8ccbf7" stroke="#000" stroke-width="0.8"/>
<rect x="459.20" y="208.10" width="9.40" height="62.00" fill="#8ccbf7" stroke="#000" stroke-width="0.8"/>
<line x1="407.1" y1="238.5" x2="407.1" y2="247.5" stroke="#000" stroke-width="0.9"/>
<line x1="405.5" y1="238.5" x2="408.70000000000005" y2="238.5" stroke="#000" stroke-width="0.9"/>
<line x1="435.5" y1="230.5" x2="435.5" y2="234.5" stroke="#000" stroke-width="0.9"/>
<line x1="433.9" y1="230.5" x2="437.1" y2="230.5" stroke="#000" stroke-width="0.9"/>
<line x1="463.8" y1="203.8" x2="463.8" y2="213" stroke="#000" stroke-width="0.9"/>
<line x1="462.2" y1="203.8" x2="465.40000000000003" y2="203.8" stroke="#000" stroke-width="0.9"/>
<circle cx="375.80" cy="255.00" r="1.55" fill="#000"/>
<circle cx="379.00" cy="254.30" r="1.55" fill="#000"/>
<circle cx="382.00" cy="254.60" r="1.55" fill="#000"/>
<circle cx="403.90" cy="246.60" r="1.55" fill="#000"/>
<circle cx="407.10" cy="237.40" r="1.55" fill="#000"/>
<circle cx="410.40" cy="242.60" r="1.55" fill="#000"/>
<circle cx="432.40" cy="234.20" r="1.55" fill="#000"/>
<circle cx="435.70" cy="229.40" r="1.55" fill="#000"/>
<circle cx="438.60" cy="232.60" r="1.55" fill="#000"/>
<circle cx="460.60" cy="203.50" r="1.55" fill="#000"/>
<circle cx="464.10" cy="212.80" r="1.55" fill="#000"/>
<circle cx="466.70" cy="208.40" r="1.55" fill="#000"/>
<line x1="365.0" y1="259.6" x2="478.5" y2="259.6" stroke="#111" stroke-width="1.0"/>
<text x="324.78" y="284.7" font-size="10.4" fill="#000" textLength="44.0" lengthAdjust="spacingAndGlyphs">ADP:ATP</text>
<text x="373.31" y="284.7" font-size="10.4" fill="#000">1:5</text>
<text x="400.91" y="284.7" font-size="10.4" fill="#000">1:4</text>
<text x="427.91" y="284.7" font-size="10.4" fill="#000">1:3</text>
<text x="456.41" y="284.7" font-size="10.4" fill="#000">1:2</text>
<text x="522.0" y="171.5" font-size="10.3" fill="#000">occupancy time</text>
<text x="522.0" y="184.6" font-size="10.3" fill="#000">NBD·ADP·Ca [sec]</text>
<line x1="542.2" y1="200.0" x2="542.2" y2="269.9" stroke="#000" stroke-width="1.2"/>
<line x1="539.2" y1="269.9" x2="663.8" y2="269.9" stroke="#000" stroke-width="1.2"/>
<line x1="539.0" y1="200.0" x2="542.2" y2="200.0" stroke="#000" stroke-width="1.1"/>
<text x="536.1999999999999" y="201.9" font-size="10.4" fill="#000" text-anchor="end">80</text>
<line x1="539.0" y1="217.8" x2="542.2" y2="217.8" stroke="#000" stroke-width="1.1"/>
<text x="536.1999999999999" y="220.3" font-size="10.4" fill="#000" text-anchor="end">60</text>
<line x1="539.0" y1="235.4" x2="542.2" y2="235.4" stroke="#000" stroke-width="1.1"/>
<text x="536.1999999999999" y="238.0" font-size="10.4" fill="#000" text-anchor="end">40</text>
<line x1="539.0" y1="253.3" x2="542.2" y2="253.3" stroke="#000" stroke-width="1.1"/>
<text x="536.1999999999999" y="255.9" font-size="10.4" fill="#000" text-anchor="end">20</text>
<line x1="539.0" y1="269.9" x2="542.2" y2="269.9" stroke="#000" stroke-width="1.1"/>
<text x="536.1999999999999" y="272.4" font-size="10.4" fill="#000" text-anchor="end">0</text>
<rect x="559.10" y="256.50" width="9.60" height="13.40" fill="#7f0a80" stroke="#000" stroke-width="0.8"/>
<rect x="587.30" y="242.10" width="9.50" height="27.80" fill="#7f0a80" stroke="#000" stroke-width="0.8"/>
<rect x="615.90" y="230.20" width="9.40" height="39.70" fill="#7f0a80" stroke="#000" stroke-width="0.8"/>
<rect x="644.40" y="207.40" width="9.40" height="62.50" fill="#7f0a80" stroke="#000" stroke-width="0.8"/>
<line x1="591.5" y1="238" x2="591.5" y2="247" stroke="#000" stroke-width="0.9"/>
<line x1="589.9" y1="238" x2="593.1" y2="238" stroke="#000" stroke-width="0.9"/>
<line x1="620.3" y1="227.5" x2="620.3" y2="233" stroke="#000" stroke-width="0.9"/>
<line x1="618.6999999999999" y1="227.5" x2="621.9" y2="227.5" stroke="#000" stroke-width="0.9"/>
<line x1="649" y1="203.5" x2="649" y2="212" stroke="#000" stroke-width="0.9"/>
<line x1="647.4" y1="203.5" x2="650.6" y2="203.5" stroke="#000" stroke-width="0.9"/>
<circle cx="561.50" cy="256.20" r="1.55" fill="#000"/>
<circle cx="564.00" cy="255.60" r="1.55" fill="#000"/>
<circle cx="566.50" cy="256.00" r="1.55" fill="#000"/>
<circle cx="588.80" cy="245.50" r="1.55" fill="#000"/>
<circle cx="591.70" cy="237.20" r="1.55" fill="#000"/>
<circle cx="594.80" cy="241.70" r="1.55" fill="#000"/>
<circle cx="617.80" cy="231.80" r="1.55" fill="#000"/>
<circle cx="620.30" cy="226.60" r="1.55" fill="#000"/>
<circle cx="623.20" cy="230.30" r="1.55" fill="#000"/>
<circle cx="645.70" cy="202.50" r="1.55" fill="#000"/>
<circle cx="649.50" cy="210.50" r="1.55" fill="#000"/>
<circle cx="652.20" cy="206.80" r="1.55" fill="#000"/>
<text x="511.08" y="284.5" font-size="10.4" fill="#000" textLength="44.0" lengthAdjust="spacingAndGlyphs">ADP:ATP</text>
<text x="559.41" y="284.5" font-size="10.4" fill="#000">1:5</text>
<text x="586.31" y="284.5" font-size="10.4" fill="#000">1:4</text>
<text x="614.31" y="284.5" font-size="10.4" fill="#000">1:3</text>
<text x="641.91" y="284.5" font-size="10.4" fill="#000">1:2</text>
<text x="145.6" y="308.9" font-size="10.3" fill="#000">occupancy time</text>
<text x="145.6" y="321.7" font-size="10.3" fill="#000">NBD·ADP·Pi [sec]</text>
<line x1="169.1" y1="331.9" x2="169.1" y2="404.6" stroke="#000" stroke-width="1.2"/>
<line x1="166.6" y1="404.6" x2="287.3" y2="404.6" stroke="#000" stroke-width="1.2"/>
<line x1="165.9" y1="331.9" x2="169.1" y2="331.9" stroke="#000" stroke-width="1.1"/>
<text x="163.70000000000002" y="335.0" font-size="10.4" fill="#000" text-anchor="end">150</text>
<line x1="165.9" y1="356.2" x2="169.1" y2="356.2" stroke="#000" stroke-width="1.1"/>
<text x="163.70000000000002" y="360.1" font-size="10.4" fill="#000" text-anchor="end">100</text>
<line x1="165.9" y1="380.3" x2="169.1" y2="380.3" stroke="#000" stroke-width="1.1"/>
<text x="163.70000000000002" y="383.8" font-size="10.4" fill="#000" text-anchor="end">50</text>
<line x1="165.9" y1="404.6" x2="169.1" y2="404.6" stroke="#000" stroke-width="1.1"/>
<text x="163.70000000000002" y="408.0" font-size="10.4" fill="#000" text-anchor="end">0</text>
<rect x="185.20" y="388.40" width="9.50" height="16.20" fill="#07519a" stroke="#000" stroke-width="0.8"/>
<rect x="213.10" y="380.30" width="9.50" height="24.30" fill="#07519a" stroke="#000" stroke-width="0.8"/>
<rect x="241.20" y="367.00" width="8.90" height="37.60" fill="#07519a" stroke="#000" stroke-width="0.8"/>
<rect x="269.10" y="347.10" width="8.90" height="57.50" fill="#07519a" stroke="#000" stroke-width="0.8"/>
<line x1="273.7" y1="343.7" x2="273.7" y2="352" stroke="#000" stroke-width="0.9"/>
<line x1="272.09999999999997" y1="343.7" x2="275.3" y2="343.7" stroke="#000" stroke-width="0.9"/>
<circle cx="187.50" cy="388.00" r="1.55" fill="#000"/>
<circle cx="190.00" cy="388.30" r="1.55" fill="#000"/>
<circle cx="192.50" cy="388.60" r="1.55" fill="#000"/>
<circle cx="215.00" cy="383.50" r="1.55" fill="#000"/>
<circle cx="217.90" cy="381.20" r="1.55" fill="#000"/>
<circle cx="220.30" cy="375.50" r="1.55" fill="#000"/>
<circle cx="244.00" cy="367.50" r="1.55" fill="#000"/>
<circle cx="245.50" cy="371.00" r="1.55" fill="#000"/>
<circle cx="247.70" cy="361.70" r="1.55" fill="#000"/>
<circle cx="270.10" cy="338.20" r="1.55" fill="#000"/>
<circle cx="273.50" cy="350.50" r="1.55" fill="#000"/>
<circle cx="276.00" cy="349.50" r="1.55" fill="#000"/>
<line x1="175.2" y1="396.4" x2="287.3" y2="396.4" stroke="#111" stroke-width="1.0"/>
<text x="130.28" y="420.1" font-size="10.4" fill="#000" textLength="44.0" lengthAdjust="spacingAndGlyphs">ADP:ATP</text>
<text x="182.41" y="420.1" font-size="10.4" fill="#000">1:5</text>
<text x="209.51" y="420.1" font-size="10.4" fill="#000">1:4</text>
<text x="236.71" y="420.1" font-size="10.4" fill="#000">1:3</text>
<text x="264.71" y="420.1" font-size="10.4" fill="#000">1:2</text>
<text x="132.66" y="437.1" font-size="10.4" fill="#000" textLength="36.2" lengthAdjust="spacingAndGlyphs">[Pi] mM</text>
<text x="179.29" y="437.1" font-size="10.4" fill="#000">0.2</text>
<text x="209.51" y="437.1" font-size="10.4" fill="#000">1</text>
<text x="237.21" y="437.1" font-size="10.4" fill="#000">1.3</text>
<text x="264.71" y="437.1" font-size="10.4" fill="#000">1.7</text>
<text x="336.6" y="308.9" font-size="10.3" fill="#000">occupancy time</text>
<text x="336.6" y="321.7" font-size="10.3" fill="#000">NBD·ADP [sec]</text>
<line x1="357.6" y1="332.5" x2="357.6" y2="405.3" stroke="#000" stroke-width="1.2"/>
<line x1="354.7" y1="405.3" x2="477.7" y2="405.3" stroke="#000" stroke-width="1.2"/>
<line x1="354.40000000000003" y1="347.5" x2="357.6" y2="347.5" stroke="#000" stroke-width="1.1"/>
<text x="352.90000000000003" y="350.8" font-size="10.4" fill="#000" text-anchor="end">40</text>
<line x1="354.40000000000003" y1="376.5" x2="357.6" y2="376.5" stroke="#000" stroke-width="1.1"/>
<text x="352.90000000000003" y="380.0" font-size="10.4" fill="#000" text-anchor="end">20</text>
<line x1="354.40000000000003" y1="405.3" x2="357.6" y2="405.3" stroke="#000" stroke-width="1.1"/>
<text x="352.90000000000003" y="408.8" font-size="10.4" fill="#000" text-anchor="end">0</text>
<rect x="374.30" y="391.00" width="9.20" height="14.30" fill="#8ccbf7" stroke="#000" stroke-width="0.8"/>
<rect x="403.00" y="383.20" width="9.10" height="22.10" fill="#8ccbf7" stroke="#000" stroke-width="0.8"/>
<rect x="431.40" y="378.50" width="9.20" height="26.80" fill="#8ccbf7" stroke="#000" stroke-width="0.8"/>
<rect x="460.00" y="367.90" width="9.20" height="37.40" fill="#8ccbf7" stroke="#000" stroke-width="0.8"/>
<line x1="464.5" y1="365.5" x2="464.5" y2="372" stroke="#000" stroke-width="0.9"/>
<line x1="462.9" y1="365.5" x2="466.1" y2="365.5" stroke="#000" stroke-width="0.9"/>
<circle cx="375.80" cy="391.00" r="1.55" fill="#000"/>
<circle cx="378.40" cy="391.00" r="1.55" fill="#000"/>
<circle cx="380.90" cy="391.00" r="1.55" fill="#000"/>
<circle cx="382.90" cy="391.00" r="1.55" fill="#000"/>
<circle cx="404.80" cy="384.50" r="1.55" fill="#000"/>
<circle cx="407.00" cy="382.00" r="1.55" fill="#000"/>
<circle cx="410.00" cy="380.00" r="1.55" fill="#000"/>
<circle cx="433.00" cy="377.00" r="1.55" fill="#000"/>
<circle cx="435.50" cy="381.00" r="1.55" fill="#000"/>
<circle cx="439.00" cy="374.50" r="1.55" fill="#000"/>
<circle cx="460.80" cy="362.50" r="1.55" fill="#000"/>
<circle cx="464.00" cy="371.00" r="1.55" fill="#000"/>
<circle cx="467.00" cy="368.00" r="1.55" fill="#000"/>
<line x1="364.9" y1="394.5" x2="477.7" y2="394.5" stroke="#111" stroke-width="1.0"/>
<text x="322.28" y="420.0" font-size="10.4" fill="#000" textLength="44.0" lengthAdjust="spacingAndGlyphs">ADP:ATP</text>
<text x="371.61" y="420.0" font-size="10.4" fill="#000">1:5</text>
<text x="398.91" y="420.0" font-size="10.4" fill="#000">1:4</text>
<text x="426.21" y="420.0" font-size="10.4" fill="#000">1:3</text>
<text x="454.21" y="420.0" font-size="10.4" fill="#000">1:2</text>
<text x="324.96" y="437.1" font-size="10.4" fill="#000" textLength="36.2" lengthAdjust="spacingAndGlyphs">[Pi] mM</text>
<text x="369.99" y="437.1" font-size="10.4" fill="#000">0.2</text>
<text x="400.11" y="437.1" font-size="10.4" fill="#000">1</text>
<text x="428.11" y="437.1" font-size="10.4" fill="#000">1.3</text>
<text x="455.51" y="437.1" font-size="10.4" fill="#000">1.7</text>
<text x="522.2" y="309.6" font-size="10.3" fill="#000">occupancy time</text>
<text x="522.2" y="322.4" font-size="10.3" fill="#000">NBD·ADP·Ca [sec]</text>
<line x1="541.2" y1="333.3" x2="541.2" y2="405.6" stroke="#000" stroke-width="1.2"/>
<line x1="538.3" y1="405.6" x2="662.5" y2="405.6" stroke="#000" stroke-width="1.2"/>
<line x1="538.0" y1="333.3" x2="541.2" y2="333.3" stroke="#000" stroke-width="1.1"/>
<text x="535.5999999999999" y="336.9" font-size="10.4" fill="#000" text-anchor="end">80</text>
<line x1="538.0" y1="351.3" x2="541.2" y2="351.3" stroke="#000" stroke-width="1.1"/>
<text x="535.5999999999999" y="354.8" font-size="10.4" fill="#000" text-anchor="end">60</text>
<line x1="538.0" y1="369.5" x2="541.2" y2="369.5" stroke="#000" stroke-width="1.1"/>
<text x="535.5999999999999" y="372.9" font-size="10.4" fill="#000" text-anchor="end">40</text>
<line x1="538.0" y1="387.8" x2="541.2" y2="387.8" stroke="#000" stroke-width="1.1"/>
<text x="535.5999999999999" y="391.0" font-size="10.4" fill="#000" text-anchor="end">20</text>
<line x1="538.0" y1="405.6" x2="541.2" y2="405.6" stroke="#000" stroke-width="1.1"/>
<text x="535.5999999999999" y="409.2" font-size="10.4" fill="#000" text-anchor="end">0</text>
<rect x="558.30" y="392.90" width="9.40" height="12.70" fill="#7f0a80" stroke="#000" stroke-width="0.8"/>
<rect x="586.80" y="387.80" width="9.20" height="17.80" fill="#7f0a80" stroke="#000" stroke-width="0.8"/>
<rect x="615.20" y="379.70" width="9.20" height="25.90" fill="#7f0a80" stroke="#000" stroke-width="0.8"/>
<rect x="643.30" y="372.70" width="9.40" height="32.90" fill="#7f0a80" stroke="#000" stroke-width="0.8"/>
<line x1="591.3" y1="385" x2="591.3" y2="391" stroke="#000" stroke-width="0.9"/>
<line x1="589.6999999999999" y1="385" x2="592.9" y2="385" stroke="#000" stroke-width="0.9"/>
<circle cx="560.00" cy="393.00" r="1.55" fill="#000"/>
<circle cx="562.50" cy="391.00" r="1.55" fill="#000"/>
<circle cx="565.00" cy="393.50" r="1.55" fill="#000"/>
<circle cx="588.50" cy="391.50" r="1.55" fill="#000"/>
<circle cx="591.50" cy="387.00" r="1.55" fill="#000"/>
<circle cx="593.50" cy="384.50" r="1.55" fill="#000"/>
<circle cx="617.50" cy="380.50" r="1.55" fill="#000"/>
<circle cx="620.00" cy="379.00" r="1.55" fill="#000"/>
<circle cx="622.50" cy="378.50" r="1.55" fill="#000"/>
<circle cx="645.50" cy="372.50" r="1.55" fill="#000"/>
<circle cx="648.00" cy="376.00" r="1.55" fill="#000"/>
<circle cx="651.00" cy="372.50" r="1.55" fill="#000"/>
<text x="507.68" y="420.0" font-size="10.4" fill="#000" textLength="44.0" lengthAdjust="spacingAndGlyphs">ADP:ATP</text>
<text x="554.61" y="420.0" font-size="10.4" fill="#000">1:5</text>
<text x="582.11" y="420.0" font-size="10.4" fill="#000">1:4</text>
<text x="609.91" y="420.0" font-size="10.4" fill="#000">1:3</text>
<text x="637.71" y="420.0" font-size="10.4" fill="#000">1:2</text>
<text x="509.96" y="437.2" font-size="10.4" fill="#000" textLength="36.2" lengthAdjust="spacingAndGlyphs">[Pi] mM</text>
<text x="553.99" y="437.2" font-size="10.4" fill="#000">0.2</text>
<text x="585.11" y="437.2" font-size="10.4" fill="#000">1</text>
<text x="612.41" y="437.2" font-size="10.4" fill="#000">1.3</text>
<text x="640.21" y="437.2" font-size="10.4" fill="#000">1.7</text>
</svg>
</body></html>
